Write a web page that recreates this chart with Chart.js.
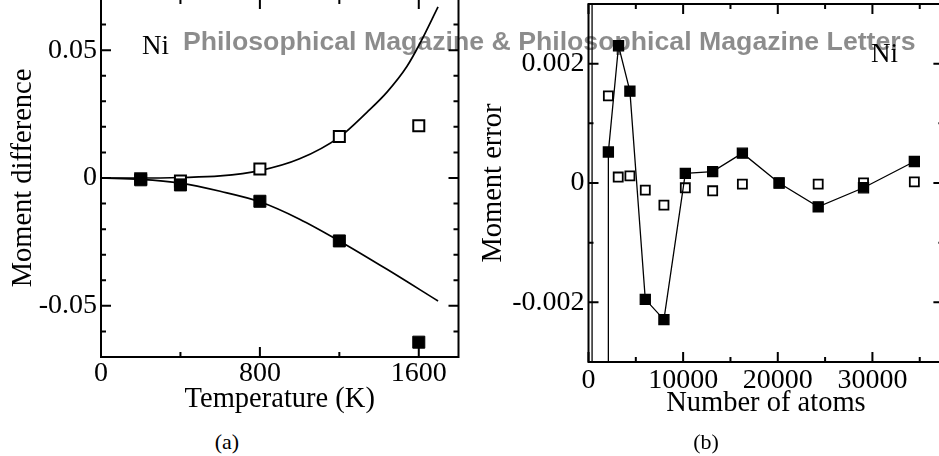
<!DOCTYPE html>
<html>
<head>
<meta charset="utf-8">
<script src="https://cdn.jsdelivr.net/npm/chart.js@4.4.0/dist/chart.umd.min.js"></script>
<style>
  html, body { margin: 0; padding: 0; background: #fff; overflow: hidden; }
  #wrap { position: relative; width: 939px; height: 456px; overflow: hidden; }
  canvas { position: absolute; }
  #cA { left: 0; top: -1px; }
  #cB { left: 470px; top: 0; }
  .lbl { position: absolute; font-family: "Liberation Serif", "Times New Roman", serif; color: #000; white-space: nowrap; line-height: 1; }
  #wm { position: absolute; left: 183px; top: 28.4px; font: bold 26.7px "Liberation Sans", Arial, sans-serif; line-height: 1;
        color: rgba(0, 0, 0, 0.45); white-space: nowrap; z-index: 5; }
</style>
</head>
<body>
<div id="wrap">
  <canvas id="cA" width="470" height="430"></canvas>
  <canvas id="cB" width="490" height="430"></canvas>
  <div class="lbl" style="left:142px; top:32.4px; font-size:27px;">Ni</div>
  <div class="lbl" style="left:871px; top:40.4px; font-size:27px;">Ni</div>
  <div class="lbl" style="left:197px; top:430.5px; width:60px; text-align:center; font-size:22px;">(a)</div>
  <div class="lbl" style="left:676px; top:430.5px; width:60px; text-align:center; font-size:22px;">(b)</div>
  <div id="wm">Philosophical Magazine &amp; Philosophical Magazine Letters</div>
</div>
<script>
// (a) moment difference vs temperature
const tempsFilled = [200, 400, 800, 1200, 1600];
const diffFilled = [-0.0007, -0.0027, -0.0091, -0.0246, -0.0642];
const tempsOpen = [200, 400, 800, 1200, 1600];
const diffOpen = [-0.0003, -0.0012, 0.0035, 0.0162, 0.0204];
// fitted curves
const fitUpT = [0, 200, 400, 600, 800, 1000, 1200, 1340, 1440, 1540, 1605, 1697];
const fitUpV = [0, 0, 0.0002, 0.0008, 0.0029, 0.0075, 0.016, 0.0258, 0.0336, 0.0436, 0.0525, 0.0669];
const fitLowT = [0, 200, 400, 600, 800, 1000, 1200, 1440, 1697];
const fitLowV = [0, -0.0005, -0.002, -0.0052, -0.0093, -0.0161, -0.0246, -0.0357, -0.0481];

const tempTicks = [0, 800, 1600];
const tempTickLabels = ['0', '800', '1600'];
const tempMinor = [400, 1200];
const diffTicks = [-0.05, 0, 0.05];
const diffTickLabels = ['-0.05', '0', '0.05'];
const diffMinor = [-0.06, -0.04, -0.03, -0.02, -0.01, 0.01, 0.02, 0.03, 0.04, 0.06];

// (b) moment error vs number of atoms (first points lie far outside the frame)
const atomsFilled = [256, 500, 1950, 2100, 3175, 4375, 6000, 7970, 10230, 13120, 16260, 20140, 24270, 29060, 34430];
const errFilled = [0.5, -0.5, -0.5, 0.00052, 0.0023, 0.00154, -0.00195, -0.00229, 0.00016, 0.00019, 0.0005, 0.0, -0.0004, -0.00008, 0.00036];
const atomsOpen = [2100, 3140, 4375, 6000, 7970, 10230, 13120, 16260, 20140, 24270, 29060, 34430];
const errOpen = [0.00146, 0.0001, 0.00012, -0.00012, -0.00037, -0.00008, -0.00013, -0.00002, 0.0, -0.00002, 0.0, 0.00002];

const atomTicks = [0, 10000, 20000, 30000];
const atomTickLabels = ['0', '10000', '20000', '30000'];
const atomMinor = [5000, 15000, 25000, 35000];
const errTicks = [-0.002, 0, 0.002];
const errTickLabels = ['-0.002', '0', '0.002'];
const errMinor = [-0.001, 0.001];

const SERIF = '"Liberation Serif", "Times New Roman", serif';

const pts = (xs, ys) => xs.map((x, i) => ({ x, y: ys[i] }));

// frame + inward ticks on all four sides
const frameTicks = {
  id: 'frameTicks',
  afterDatasetsDraw(chart, args, o) {
    const { ctx, chartArea: a, scales: { x, y } } = chart;
    ctx.save();
    ctx.strokeStyle = '#000';
    ctx.lineWidth = o.width;
    ctx.strokeRect(a.left, a.top, a.right - a.left, a.bottom - a.top);
    ctx.beginPath();
    const xt = (vals, len) => vals.forEach(v => {
      const p = x.getPixelForValue(v);
      ctx.moveTo(p, a.bottom); ctx.lineTo(p, a.bottom - len);
      ctx.moveTo(p, a.top); ctx.lineTo(p, a.top + len);
    });
    const yt = (vals, len) => vals.forEach(v => {
      const p = y.getPixelForValue(v);
      ctx.moveTo(a.left, p); ctx.lineTo(a.left + len, p);
      ctx.moveTo(a.right, p); ctx.lineTo(a.right - len, p);
    });
    xt(o.xMajor, 10); xt(o.xMinor, 5);
    yt(o.yMajor, 10); yt(o.yMinor, 5);
    ctx.stroke();
    ctx.restore();
  }
};

function axis(cfg) {
  return {
    type: 'linear',
    min: cfg.min,
    max: cfg.max,
    grid: { display: false, drawTicks: false },
    border: { display: false },
    afterBuildTicks: s => { s.ticks = cfg.ticks.map(v => ({ value: v })); },
    afterFit: s => {
      if (cfg.width) s.width = cfg.width;
      if (cfg.height) s.height = cfg.height;
      s.paddingTop = s.paddingBottom = s.paddingLeft = s.paddingRight = 0;
    },
    ticks: {
      padding: cfg.tickPad,
      color: '#000',
      autoSkip: false,
      maxRotation: 0,
      font: { family: SERIF, size: 28 },
      callback: v => cfg.labels[cfg.ticks.indexOf(v)]
    },
    title: {
      display: true,
      text: cfg.title,
      color: '#000',
      font: { family: SERIF, size: 28.5 },
      padding: cfg.titlePad
    }
  };
}

const common = {
  responsive: false,
  animation: false,
  events: [],
  plugins: { legend: { display: false }, tooltip: { enabled: false } }
};

new Chart(document.getElementById('cA'), {
  type: 'line',
  data: {
    datasets: [
      { data: pts(tempsFilled, diffFilled), showLine: false, pointStyle: 'rect', pointRadius: 8.5,
        backgroundColor: '#000', borderColor: '#000', borderWidth: 1, order: 1 },
      { data: pts(tempsOpen, diffOpen), showLine: false, pointStyle: 'rect', pointRadius: 7.8,
        backgroundColor: '#fff', borderColor: '#000', borderWidth: 2, order: 2 },
      { data: pts(fitUpT, fitUpV), pointRadius: 0, borderColor: '#000', borderWidth: 1.7,
        cubicInterpolationMode: 'monotone', fill: false, order: 3 },
      { data: pts(fitLowT, fitLowV), pointRadius: 0, borderColor: '#000', borderWidth: 1.7,
        cubicInterpolationMode: 'monotone', fill: false, order: 3 }
    ]
  },
  options: {
    ...common,
    layout: { autoPadding: false, padding: { top: 0, right: 11.5, bottom: 0, left: 0 } },
    scales: {
      x: axis({ min: 0, max: 1800, ticks: tempTicks, labels: tempTickLabels, height: 72, tickPad: 0,
                title: 'Temperature (K)', titlePad: { top: 0, bottom: 12 } }),
      y: axis({ min: -0.07, max: 0.07, ticks: diffTicks, labels: diffTickLabels, width: 101, tickPad: 4,
                title: 'Moment difference', titlePad: { top: 6, bottom: 0 } })
    },
    plugins: {
      ...common.plugins,
      frameTicks: { width: 2, xMajor: tempTicks, xMinor: tempMinor, yMajor: diffTicks, yMinor: diffMinor }
    }
  },
  plugins: [frameTicks]
});

new Chart(document.getElementById('cB'), {
  type: 'line',
  data: {
    datasets: [
      { data: pts(atomsFilled, errFilled), showLine: true, pointStyle: 'rect', pointRadius: 7.1,
        backgroundColor: '#000', borderColor: '#000', borderWidth: 1.3, order: 1 },
      { data: pts(atomsOpen, errOpen), showLine: false, pointStyle: 'rect', pointRadius: 6.4,
        backgroundColor: '#fff', borderColor: '#000', borderWidth: 1.8, order: 2 }
    ]
  },
  options: {
    ...common,
    layout: { autoPadding: false, padding: { top: 4, right: 16.6, bottom: 0, left: 0 } },
    scales: {
      x: axis({ min: 0, max: 37500, ticks: atomTicks, labels: atomTickLabels, height: 68, tickPad: 2,
                title: 'Number of atoms', titlePad: { top: 0, bottom: 9 } }),
      y: axis({ min: -0.003, max: 0.003, ticks: errTicks, labels: errTickLabels, width: 118.5, tickPad: 4,
                title: 'Moment error', titlePad: { top: 6, bottom: 0 } })
    },
    plugins: {
      ...common.plugins,
      frameTicks: { width: 2, xMajor: atomTicks, xMinor: atomMinor, yMajor: errTicks, yMinor: errMinor }
    }
  },
  plugins: [frameTicks]
});
</script>
</body>
</html>
